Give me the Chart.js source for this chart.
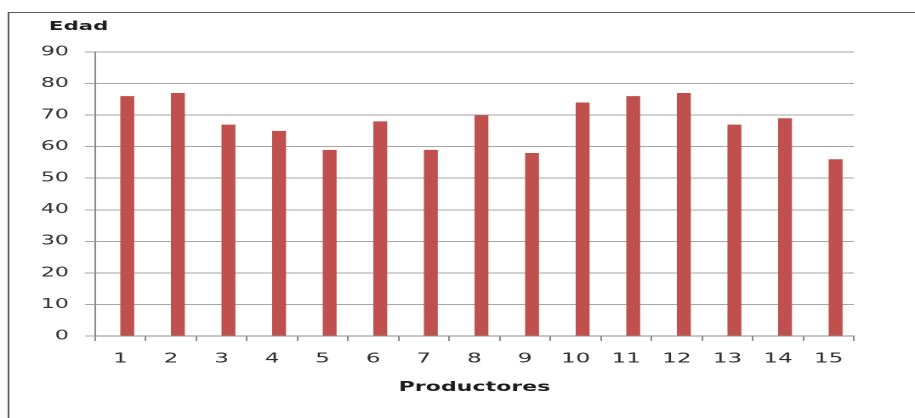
<!DOCTYPE html>
<html>
<head>
<meta charset="utf-8">
<script src="https://cdn.jsdelivr.net/npm/chart.js@4.4.1/dist/chart.umd.min.js"></script>
<style>
  html, body { margin: 0; padding: 0; background: #ffffff; overflow: hidden; }
  #wrap { width: 538px; height: 418px; transform: scaleX(1.70074); transform-origin: 0 0; }
  canvas { display: block; }
</style>
</head>
<body>
<div id="wrap"><canvas id="c" width="538" height="418" style="width:538px;height:418px"></canvas></div>
<script>
// Data
const categories = ['1','2','3','4','5','6','7','8','9','10','11','12','13','14','15'];
const edad = [76, 77, 67, 65, 59, 68, 59, 70, 58, 74, 76, 77, 67, 69, 56];
// empty series that only reserves the first slot in each group (as in the original)
const vacio = categories.map(() => null);
const yMin = 0;
const yMax = 90;
const yStep = 10;
const yTitle = 'Edad';
const xTitle = 'Productores';

const S = 915 / 538; // horizontal stretch of the page
const FONT = 'DejaVu Sans';

const framePlugin = {
  id: 'frame',
  beforeDraw(chart) {
    const ctx = chart.ctx;
    ctx.save();
    ctx.fillStyle = '#ffffff';
    ctx.fillRect(0, 0, chart.width, chart.height);
    ctx.strokeStyle = '#5a5a5a';
    ctx.lineWidth = 1;
    ctx.beginPath();
    ctx.moveTo(8.5 / S, chart.height);
    ctx.lineTo(8.5 / S, 12.5);
    ctx.lineTo(chart.width, 12.5);
    ctx.stroke();
    ctx.restore();
  },
  afterDraw(chart) {
    const ctx = chart.ctx;
    ctx.save();
    ctx.fillStyle = '#1e1e1e';
    ctx.font = 'bold 12.5px "' + FONT + '"';
    ctx.textAlign = 'left';
    ctx.textBaseline = 'middle';
    ctx.fillText(yTitle, 49 / S, 26.5);
    ctx.restore();
  }
};

new Chart(document.getElementById('c'), {
  type: 'bar',
  data: {
    labels: categories,
    datasets: [
      {
        data: vacio,
        backgroundColor: '#4F81BD',
        borderWidth: 0,
        barPercentage: 1,
        categoryPercentage: 0.55
      },
      {
        data: edad,
        backgroundColor: '#C0504D',
        borderWidth: 0,
        barPercentage: 1,
        categoryPercentage: 0.55
      }
    ]
  },
  options: {
    responsive: false,
    animation: false,
    devicePixelRatio: 2,
    layout: { padding: { left: 0, right: 35.9, top: 52, bottom: 22.6 } },
    plugins: {
      legend: { display: false },
      tooltip: { enabled: false },
      title: { display: false }
    },
    scales: {
      x: {
        grid: {
          display: true,
          drawOnChartArea: false,
          drawTicks: true,
          tickLength: 5,
          color: '#8c8c8c',
          offset: true
        },
        border: { display: true, color: '#8c8c8c', width: 1 },
        ticks: {
          color: '#2e2e2e',
          padding: 10,
          font: { family: FONT, size: 13.5 },
          maxRotation: 0
        },
        title: {
          display: true,
          text: xTitle,
          color: '#1e1e1e',
          font: { family: FONT, size: 13, weight: 'bold' },
          padding: { top: 0, bottom: 0 }
        },
        afterFit(scale) { scale.height = 59.4; }
      },
      y: {
        min: yMin,
        max: yMax,
        ticks: {
          stepSize: yStep,
          color: '#333333',
          padding: 9.4,
          font: { family: FONT, size: 13 }
        },
        grid: {
          color: '#a6a6a6',
          lineWidth: 1,
          drawTicks: true,
          tickLength: 5.9
        },
        border: { display: true, color: '#8c8c8c', width: 1 },
        afterFit(scale) { scale.width = 55.86; }
      }
    }
  },
  plugins: [framePlugin]
});
</script>
</body>
</html>
